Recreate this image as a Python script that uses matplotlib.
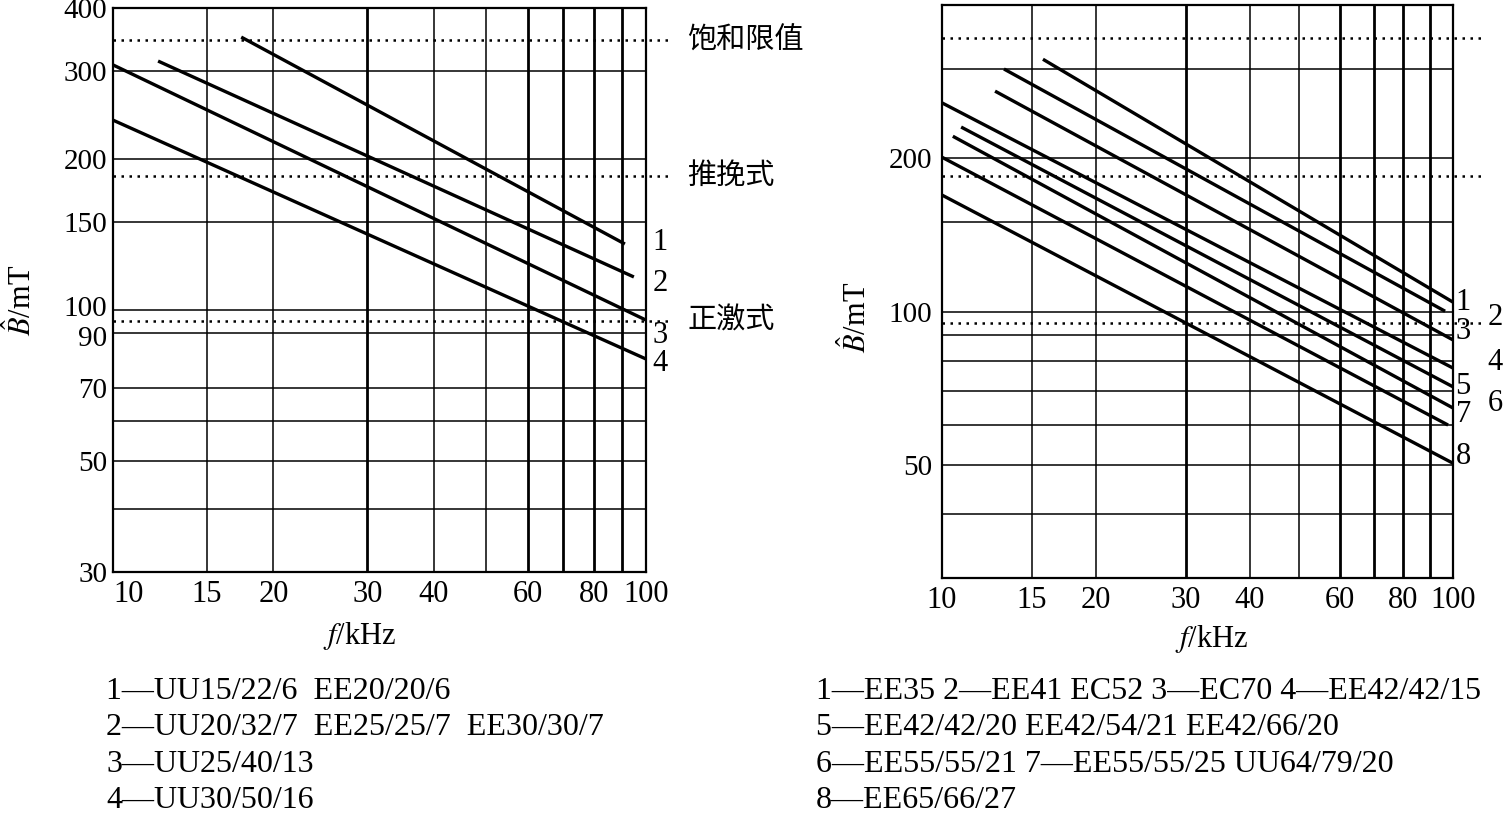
import matplotlib.pyplot as plt
from matplotlib.transforms import ScaledTranslation

plt.rcParams['font.family'] = ['Liberation Serif', 'Noto Sans CJK SC']
plt.rcParams['mathtext.fontset'] = 'stix'

# --- data (f in kHz, B in mT), each curve is a straight line on log-log
left_f = [[17.4, 91.3], [12.15, 94.9], [10, 100], [10, 100]]
left_b = [[350, 135.3], [313.5, 116.3], [308, 95.4], [239, 79.8]]
left_names = ['1', '2', '3', '4']
left_name_b = [136, 113, 89, 78.3]

right_f = [[15.76, 100], [13.22, 96.5], [12.7, 100], [10, 100],
           [10.9, 100], [10.5, 100], [10, 97.8], [10, 100]]
right_b = [[313, 104.4], [299.5, 100.2], [271, 88], [257, 77.5],
           [230.4, 71.2], [221, 64.7], [201, 59.9], [169.4, 50.4]]
right_names = ['1', '2', '3', '4', '5', '6', '7', '8']
right_name_b = [104.4, 97.6, 91.6, 79.6, 71.2, 65.9, 62.7, 52.0]

limit_b = [345, 185, 95]
limit_names = ['饱和限值', '推挽式', '正激式']

x_ticks = [10, 15, 20, 30, 40, 60, 80, 100]
x_grid = [15, 20, 30, 40, 50, 60, 70, 80, 90]
x_grid_thick = [30, 60, 70, 80, 90]
y_grid = [40, 50, 60, 70, 90, 100, 150, 200, 300]
left_y_ticks = [30, 50, 70, 90, 100, 150, 200, 300, 400]
right_y_grid = [40, 50, 60, 70, 80, 90, 100, 150, 200, 300]
right_y_ticks = [50, 100, 200]

left_notes = ['1—UU15/22/6  EE20/20/6',
              '2—UU20/32/7  EE25/25/7  EE30/30/7',
              '3—UU25/40/13',
              '4—UU30/50/16']
right_notes = ['1—EE35 2—EE41 EC52 3—EC70 4—EE42/42/15',
               '5—EE42/42/20 EE42/54/21 EE42/66/20',
               '6—EE55/55/21 7—EE55/55/25 UU64/79/20',
               '8—EE65/66/27']

W, H = 1512, 815
fig = plt.figure(figsize=(W / 100, H / 100), dpi=100)


def setup(ax, ygrid, yticks, ypad):
    ax.set_xscale('log')
    ax.set_yscale('log')
    ax.set_xlim(10, 100)
    ax.set_ylim(30, 400)
    for x in x_grid:
        ax.axvline(x, color='black', lw=2.0 if x in x_grid_thick else 1.1, zorder=1)
    for y in ygrid:
        ax.axhline(y, color='black', lw=1.1, zorder=1)
    ax.set_xticks(x_ticks, [str(v) for v in x_ticks])
    ax.set_yticks(yticks, [str(v) for v in yticks])
    ax.minorticks_off()
    ax.tick_params(axis='x', length=0, pad=6, labelsize=22)
    ax.tick_params(axis='y', length=0, pad=ypad, labelsize=21)
    for s in ax.spines.values():
        s.set_linewidth(1.6)
    ax.set_xlabel('$f$/kHz', fontsize=22)
    ax.set_ylabel(r'$\hat{B}$/mT', fontsize=22)


# left panel
ax1 = fig.add_axes([113 / W, 1 - 572 / H, 533 / W, 564 / H])
setup(ax1, y_grid, left_y_ticks, 4)
ax1.get_xticklabels()[0].set_horizontalalignment('left')
# 100 and 90 sit very close together: nudge them apart a little
ylabels = ax1.get_yticklabels()
nudge = {'100': 4, '90': -3}
for lab in ylabels:
    dy = nudge.get(lab.get_text(), 0)
    if dy:
        lab.set_transform(lab.get_transform() + ScaledTranslation(0, dy / 100, fig.dpi_scale_trans))
for fs, bs in zip(left_f, left_b):
    ax1.plot(fs, bs, color='black', lw=2.4, solid_capstyle='butt', zorder=3)
for name, b in zip(left_names, left_name_b):
    ax1.text(1.026, b, name, transform=ax1.get_yaxis_transform(),
             ha='center', va='center', fontsize=22)
for b, name in zip(limit_b, limit_names):
    ax1.plot([0, 1.045], [b, b], transform=ax1.get_yaxis_transform(), clip_on=False,
             color='black', lw=1.8, linestyle=(0, (1, 2.2)), zorder=2)
    ax1.text(1.077, b, name, transform=ax1.get_yaxis_transform(),
             ha='left', va='center', fontsize=21, family=['Noto Sans CJK SC'])
ax1.xaxis.set_label_coords(0.463, -0.085)
ax1.yaxis.set_label_coords(-0.14, 0.482)

# right panel
ax2 = fig.add_axes([942 / W, 1 - 578 / H, 511 / W, 573 / H])
setup(ax2, right_y_grid, right_y_ticks, 7)
for fs, bs in zip(right_f, right_b):
    ax2.plot(fs, bs, color='black', lw=2.4, solid_capstyle='butt', zorder=3)
for name, b in zip(right_names, right_name_b):
    xpos = 1.083 if name in ('2', '4', '6') else 1.02
    ax2.text(xpos, b, name, transform=ax2.get_yaxis_transform(),
             ha='center', va='center', fontsize=22)
for b in limit_b:
    ax2.plot([0, 1.065], [b, b], transform=ax2.get_yaxis_transform(), clip_on=False,
             color='black', lw=1.8, linestyle=(0, (1, 2.2)), zorder=2)
ax2.xaxis.set_label_coords(0.528, -0.078)
ax2.yaxis.set_label_coords(-0.135, 0.454)

# notes under the charts
for i, line in enumerate(left_notes):
    fig.text(106 / W, 1 - (699 + 36.3 * i) / H, line, fontsize=23, va='baseline')
for i, line in enumerate(right_notes):
    fig.text(816 / W, 1 - (699 + 36.3 * i) / H, line, fontsize=23, va='baseline')

plt.savefig('out.png', dpi=100)
